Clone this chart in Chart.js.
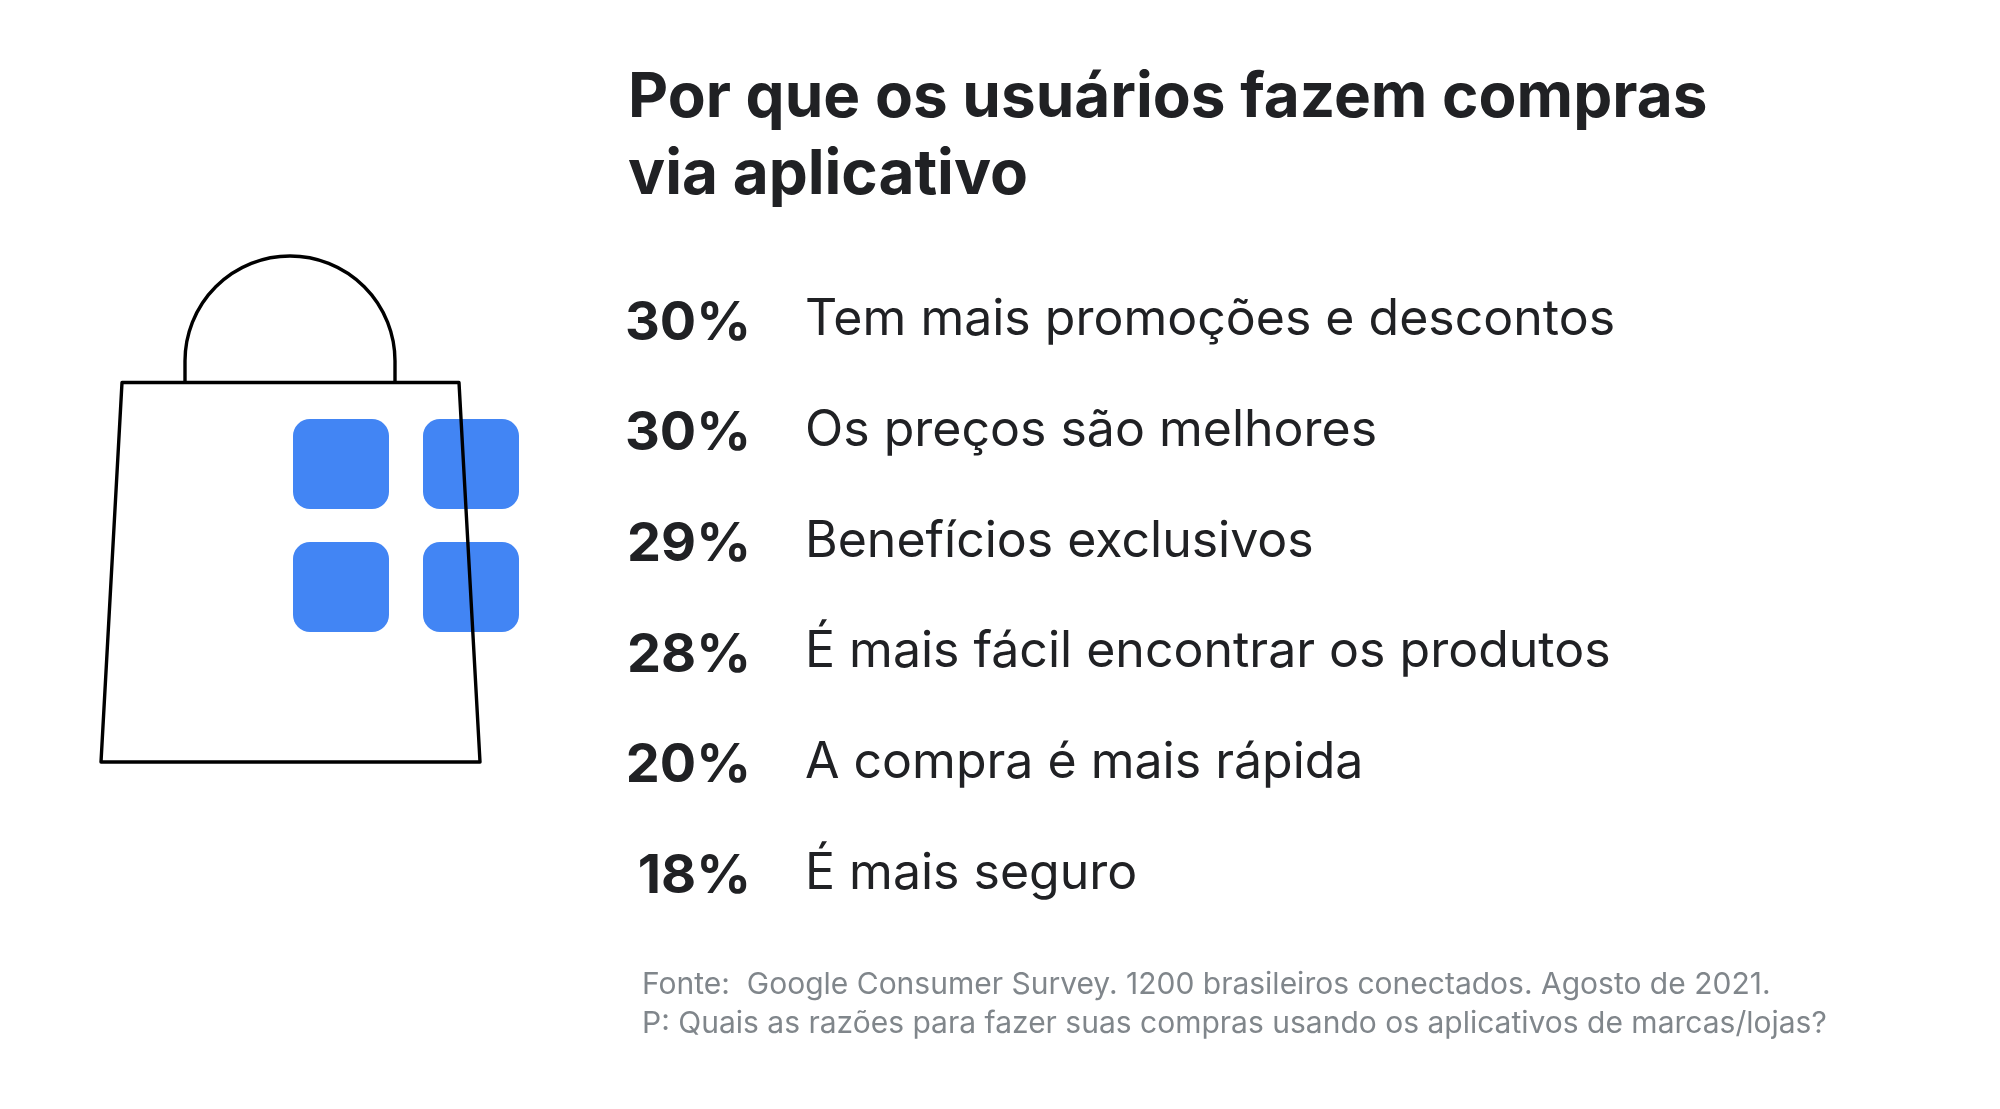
<!DOCTYPE html>
<html lang="pt-BR"><head><meta charset="utf-8">
<style>html,body{margin:0;padding:0;background:#fff}canvas{display:block}</style>
<script src="https://cdn.jsdelivr.net/npm/chart.js@4"></script></head>
<body><canvas id="c" width="2000" height="1109" style="width:2000px;height:1109px"></canvas>
<script>
const titleLines = ["Por que os usuários fazem compras", "via aplicativo"];
const categories = ["Tem mais promoções e descontos","Os preços são melhores","Benefícios exclusivos","É mais fácil encontrar os produtos","A compra é mais rápida","É mais seguro"];
const values = [30,30,29,28,20,18];
const footerLines = ["Fonte:  Google Consumer Survey. 1200 brasileiros conectados. Agosto de 2021.","P: Quais as razões para fazer suas compras usando os aplicativos de marcas/lojas?"];
const FONT = "Inter, sans-serif", INK = "#202124", GREY = "#80868B", BLUE = "#4285F4";

const decorations = {
  id: "decorations",
  beforeDatasetsDraw(chart) {
    const c = chart.ctx; c.save();
    c.fillStyle = BLUE;
    [[293,419],[423,419],[293,542],[423,542]].forEach(([x,y]) => {
      c.beginPath(); c.roundRect(x,y,96,90,17); c.fill();
    });
    c.strokeStyle = "#000"; c.lineWidth = 3.4; c.lineJoin = "round";
    c.beginPath(); c.moveTo(122,382); c.lineTo(457,382); c.lineTo(479.5,762); c.lineTo(101,762); c.closePath();
    c.restore();
  },
  afterDraw(chart) {
    const c = chart.ctx; c.save();
    // bag outline
    c.strokeStyle = "#000"; c.lineWidth = 3.4; c.lineJoin = "round";
    c.beginPath(); c.moveTo(122,382.5); c.lineTo(459,382.5); c.lineTo(480,762); c.lineTo(101,762); c.closePath(); c.stroke();
    c.beginPath(); c.moveTo(185,382); c.lineTo(185,361); c.arc(290,361,105,Math.PI,0); c.lineTo(395,382); c.stroke();
    // value labels
    const meta = chart.getDatasetMeta(0);
    c.fillStyle = INK; c.font = "700 54px " + FONT; c.textAlign = "right"; c.textBaseline = "middle";
    meta.data.forEach((el,i) => c.fillText(values[i] + "%", 751, el.y + 3));
    // footer
    c.fillStyle = GREY; c.font = "400 30px " + FONT; c.textAlign = "left"; c.textBaseline = "alphabetic";
    footerLines.forEach((t,i) => c.fillText(t, 642, 994 + i*38.5));
    c.restore();
  }
};

new Chart(document.getElementById("c"), {
  type: "bar",
  data: { labels: categories, datasets: [{ data: values, backgroundColor: "rgba(0,0,0,0)", borderWidth: 0 }] },
  plugins: [decorations],
  options: {
    responsive: false, animation: false, devicePixelRatio: 1, indexAxis: "y",
    layout: { padding: { left: 628, right: 0, top: 40, bottom: 180 } },
    plugins: {
      legend: { display: false }, tooltip: { enabled: false },
      title: { display: true, text: titleLines, align: "start", color: INK,
        font: { family: FONT, size: 62, weight: "700", lineHeight: 77/62 }, padding: { top: 20, bottom: 51 } }
    },
    scales: {
      x: { display: false, min: 0, max: 100 },
      y: { position: "right", grid: { display: false, drawTicks: false }, border: { display: false },
        afterFit(s) { s.width = 1195; },
        ticks: { padding: 0, color: INK, font: { family: FONT, size: 50, weight: "400" }, autoSkip: false } }
    }
  }
});
</script></body></html>
